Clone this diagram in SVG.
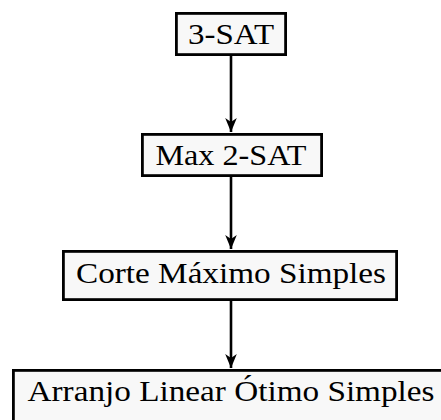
<svg xmlns="http://www.w3.org/2000/svg" width="441" height="420" viewBox="0 0 441 420">
  <style>
    .box { fill: #f8f8f8; stroke: #000; stroke-width: 2.8; }
    .lbl { font-family: "Liberation Serif", "Times New Roman", serif; font-size: 30px; fill: #000; text-anchor: middle; }
    .edge { stroke: #000; stroke-width: 2.6; fill: none; marker-end: url(#head); }
  </style>
  <defs>
    <marker id="head" viewBox="-16 -8 17 16" refX="0" refY="0" markerWidth="17" markerHeight="16" markerUnits="userSpaceOnUse" orient="auto">
      <path d="M0,0 L-14,-5.8 L-10,0 L-14,5.8 Z" fill="#000"/>
    </marker>
  </defs>
  <rect width="441" height="420" fill="#fff"/>
  <g id="connectors">
    <line class="edge" x1="231" y1="56" x2="231" y2="132"/>
    <line class="edge" x1="231" y1="177" x2="231" y2="249"/>
    <line class="edge" x1="231" y1="301" x2="231" y2="368"/>
  </g>
  <g id="n3sat">
    <rect class="box" x="176.4" y="13.4" width="109.2" height="41.2"/>
    <text class="lbl" x="231" y="44" textLength="86" lengthAdjust="spacingAndGlyphs">3-SAT</text>
  </g>
  <g id="max2sat">
    <rect class="box" x="142.4" y="134.4" width="179.2" height="41.2"/>
    <text class="lbl" x="231" y="165" textLength="151" lengthAdjust="spacingAndGlyphs">Max 2-SAT</text>
  </g>
  <g id="corte">
    <rect class="box" x="63.4" y="251.4" width="333.2" height="48.2"/>
    <text class="lbl" x="231" y="283" textLength="310" lengthAdjust="spacingAndGlyphs">Corte Máximo Simples</text>
  </g>
  <g id="arranjo">
    <rect class="box" x="13.4" y="370.4" width="436" height="60"/>
    <text class="lbl" x="231" y="401" textLength="407" lengthAdjust="spacingAndGlyphs">Arranjo Linear Ótimo Simples</text>
  </g>
</svg>
